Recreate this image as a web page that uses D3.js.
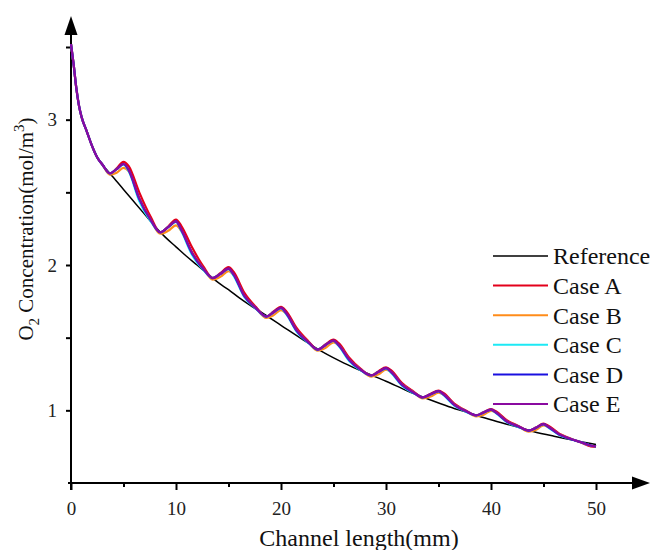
<!DOCTYPE html>
<html><head><meta charset="utf-8">
<script src="https://cdn.jsdelivr.net/npm/d3@7"></script>
<style>body{margin:0;background:#fff}</style>
</head><body>
<script>
// ---- data ----
const xMajorTicks = [0, 10, 20, 30, 40, 50];
const xMinorTicks = [5, 15, 25, 35, 45];
const yMajorTicks = [1, 2, 3];
const yMinorTicks = [1.5, 2.5, 3.5];

const refX = [0,0.25,0.5,0.75,1,1.5,2,2.5,3,3.7,4,5,6,7,8,9,10,11,12,13,14,15,16,17,18,20,22,24,26,28,30,32,34,36,38,40,42,44,46,48,50];
const refY = [3.52,3.38,3.22,3.10,3.02,2.92,2.82,2.74,2.69,2.63,2.605,2.52,2.435,2.35,2.265,2.19,2.125,2.06,2.0,1.94,1.88,1.83,1.775,1.725,1.68,1.585,1.49,1.40,1.325,1.26,1.2,1.135,1.078,1.025,0.98,0.935,0.895,0.855,0.822,0.792,0.765];

const caseX = [0,0.25,0.5,0.75,1,1.5,2,2.5,3,
  3.7,4.35,5.0,5.5,6.5,7.6,
  8.5,9.25,10.0,10.5,11.5,12.6,
  13.5,14.25,15.0,15.5,16.5,17.6,
  18.6,19.3,20.0,20.5,21.5,22.6,
  23.5,24.25,25.0,25.5,26.5,27.6,
  28.6,29.3,30.0,30.5,31.5,32.6,
  33.5,34.25,35.0,35.5,36.5,37.6,
  38.6,39.3,40.0,40.5,41.5,42.6,
  43.6,44.3,45.0,45.5,46.5,47.5,
  48.5,49.5,50];

const caseA = [3.52,3.38,3.22,3.10,3.02,2.92,2.82,2.74,2.69,
  2.63,2.665,2.71,2.68,2.50,2.33,
  2.225,2.265,2.312,2.27,2.125,1.99,
  1.91,1.945,1.985,1.952,1.81,1.712,
  1.645,1.68,1.712,1.682,1.565,1.476,
  1.418,1.455,1.486,1.462,1.362,1.285,
  1.24,1.27,1.295,1.275,1.19,1.13,
  1.089,1.114,1.136,1.118,1.047,0.999,
  0.966,0.988,1.008,0.992,0.932,0.893,
  0.86,0.883,0.908,0.892,0.84,0.808,
  0.78,0.752,0.748];

const caseB = [3.52,3.38,3.22,3.10,3.02,2.92,2.82,2.74,2.69,
  2.622,2.635,2.668,2.645,2.46,2.31,
  2.215,2.235,2.272,2.235,2.09,1.975,
  1.9,1.92,1.957,1.93,1.79,1.705,
  1.636,1.655,1.69,1.665,1.55,1.47,
  1.41,1.43,1.468,1.447,1.35,1.28,
  1.232,1.248,1.28,1.262,1.18,1.125,
  1.082,1.095,1.122,1.107,1.04,0.995,
  0.959,0.97,0.996,0.983,0.925,0.89,
  0.853,0.866,0.897,0.883,0.835,0.806,
  0.782,0.758,0.752];

const caseC = [3.52,3.38,3.22,3.10,3.02,2.92,2.82,2.74,2.69,
  2.63,2.66,2.69,2.645,2.44,2.30,
  2.225,2.26,2.296,2.235,2.075,1.968,
  1.91,1.94,1.972,1.925,1.78,1.70,
  1.645,1.675,1.702,1.662,1.54,1.465,
  1.418,1.45,1.477,1.443,1.34,1.275,
  1.24,1.265,1.287,1.258,1.172,1.12,
  1.089,1.11,1.13,1.104,1.033,0.991,
  0.966,0.985,1.003,0.98,0.92,0.886,
  0.86,0.88,0.903,0.88,0.83,0.804,
  0.782,0.758,0.752];

const caseD = [3.52,3.38,3.22,3.10,3.02,2.92,2.82,2.74,2.69,
  2.63,2.66,2.695,2.652,2.455,2.308,
  2.225,2.26,2.30,2.242,2.085,1.972,
  1.91,1.94,1.975,1.932,1.787,1.703,
  1.645,1.675,1.705,1.667,1.547,1.468,
  1.418,1.45,1.48,1.448,1.347,1.278,
  1.24,1.265,1.29,1.263,1.177,1.123,
  1.089,1.11,1.132,1.108,1.038,0.994,
  0.966,0.985,1.005,0.983,0.923,0.889,
  0.86,0.88,0.905,0.883,0.833,0.805,
  0.782,0.758,0.752];

const caseE = [3.52,3.38,3.22,3.10,3.02,2.92,2.82,2.74,2.69,
  2.63,2.66,2.695,2.655,2.46,2.31,
  2.225,2.26,2.30,2.245,2.09,1.975,
  1.91,1.94,1.975,1.935,1.79,1.705,
  1.645,1.675,1.705,1.67,1.55,1.47,
  1.418,1.45,1.48,1.45,1.35,1.28,
  1.24,1.265,1.29,1.265,1.18,1.125,
  1.089,1.11,1.132,1.11,1.04,0.995,
  0.966,0.985,1.005,0.985,0.925,0.89,
  0.86,0.88,0.905,0.885,0.835,0.806,
  0.782,0.758,0.752];

const seriesNames = ["Reference", "Case A", "Case B", "Case C", "Case D", "Case E"];
const seriesColors = ["#000000", "#e3001b", "#ff8c1a", "#1de9f5", "#1a10e0", "#8a0aa0"];

// ---- drawing ----
const W = 654, H = 550;
const serif = "'Liberation Serif','Times New Roman',serif";
const svg = d3.select("body").append("svg").attr("width", W).attr("height", H)
  .style("font-family", serif);

const x = d3.scaleLinear().domain([0, 50]).range([71, 596]);
const y = d3.scaleLinear().domain([0.5, 3.5]).range([483, 47]);

// x axis
const gx = svg.append("g").attr("transform", `translate(0,${y(0.5)})`);
gx.call(d3.axisBottom(x).tickValues(xMajorTicks).tickSize(7).tickPadding(12).tickFormat(d3.format("d")));
gx.append("g").call(d3.axisBottom(x).tickValues(xMinorTicks).tickSize(4).tickFormat(""));
// y axis
const gy = svg.append("g").attr("transform", `translate(${x(0)},0)`);
gy.call(d3.axisLeft(y).tickValues(yMajorTicks).tickSize(5).tickPadding(9).tickFormat(d3.format("d")));
gy.append("g").call(d3.axisLeft(y).tickValues(yMinorTicks).tickSize(5).tickFormat(""));

svg.selectAll(".domain").remove();
svg.selectAll(".tick line").attr("stroke", "#000").attr("stroke-width", 2);
svg.selectAll(".tick text").attr("fill", "#222").style("font-size", "19px").style("font-family", serif);

// axis lines with arrows
const x0 = x(0), yb = y(0.5);
svg.append("line").attr("x1", x0 - 3).attr("x2", 634).attr("y1", yb).attr("y2", yb)
  .attr("stroke", "#000").attr("stroke-width", 2);
svg.append("line").attr("x1", x0).attr("x2", x0).attr("y1", yb + 7).attr("y2", 33)
  .attr("stroke", "#000").attr("stroke-width", 2);
svg.append("path").attr("d", `M650,${yb} L632,${yb - 6.5} L632,${yb + 6.5} Z`).attr("fill", "#000");
svg.append("path").attr("d", `M${x0},16 L${x0 - 6.5},35 L${x0 + 6.5},35 Z`).attr("fill", "#000");

// lines
const line = d3.line().x(d => x(d[0])).y(d => y(d[1])).curve(d3.curveMonotoneX);
const data = [d3.zip(refX, refY), d3.zip(caseX, caseA), d3.zip(caseX, caseB),
  d3.zip(caseX, caseC), d3.zip(caseX, caseD), d3.zip(caseX, caseE)];
data.forEach((d, i) => {
  svg.append("path").datum(d).attr("d", line).attr("fill", "none")
    .attr("stroke", seriesColors[i]).attr("stroke-width", i === 0 ? 1.5 : 2.2)
    .attr("stroke-linejoin", "round");
});

// legend
const lg = svg.append("g");
seriesNames.forEach((n, i) => {
  const ly = 256 + i * 29.6;
  lg.append("line").attr("x1", 493).attr("x2", 548).attr("y1", ly).attr("y2", ly)
    .attr("stroke", seriesColors[i]).attr("stroke-width", i === 0 ? 1.5 : 2);
  lg.append("text").attr("x", 553).attr("y", ly).attr("dy", "0.35em")
    .style("font-size", "24px").attr("fill", "#111").text(n);
});

// axis titles
svg.append("text").attr("x", 359).attr("y", 546).attr("text-anchor", "middle")
  .style("font-size", "24px").attr("fill", "#111").text("Channel length(mm)");

const yt = svg.append("text").attr("transform", "translate(33,229) rotate(-90)")
  .attr("text-anchor", "middle").style("font-size", "21px").attr("fill", "#111");
yt.append("tspan").text("O");
yt.append("tspan").attr("dy", 6).style("font-size", "15px").text("2");
yt.append("tspan").attr("dy", -6).text(" Concentration(mol/m");
yt.append("tspan").attr("dy", -9).style("font-size", "15px").text("3");
yt.append("tspan").attr("dy", 9).text(")");
</script>
</body></html>
